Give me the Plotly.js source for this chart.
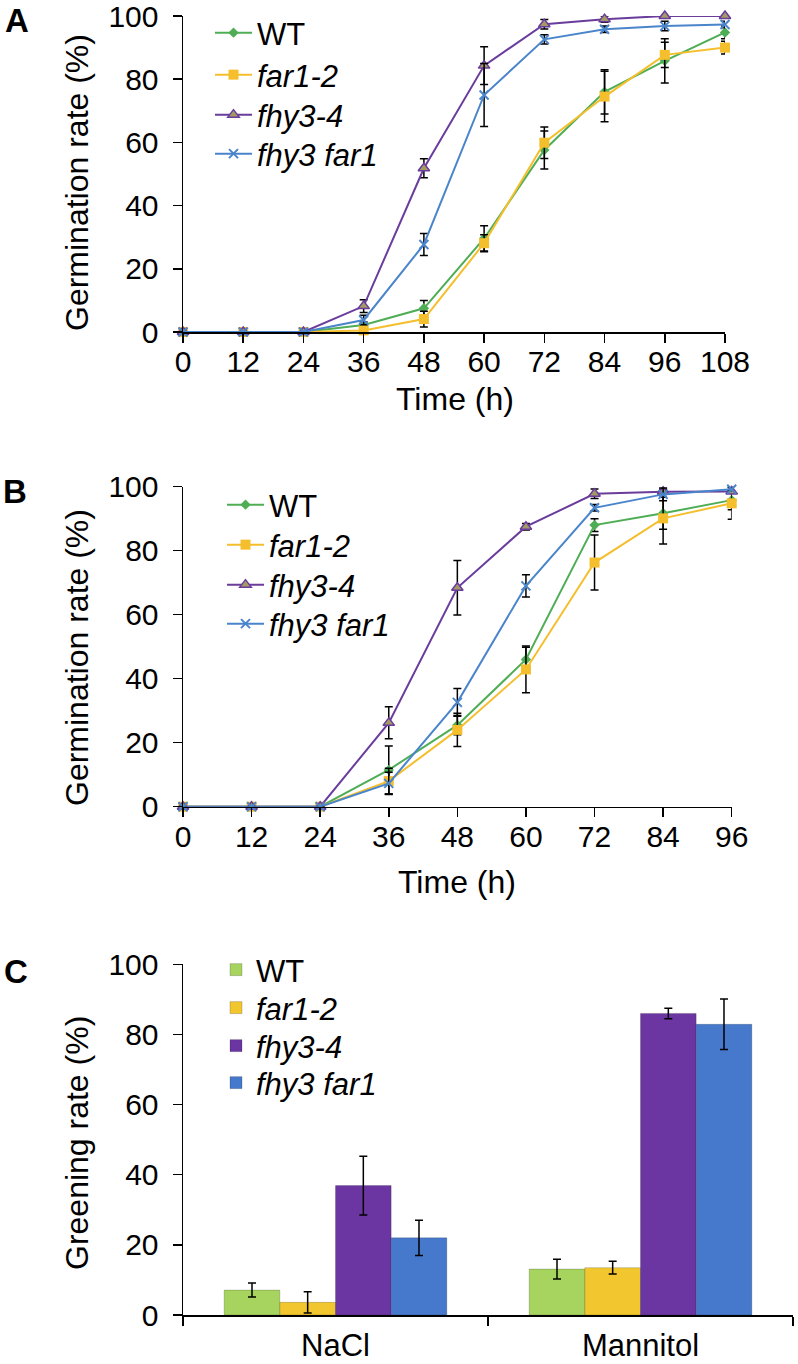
<!DOCTYPE html>
<html>
<head>
<meta charset="utf-8">
<script src="https://cdn.plot.ly/plotly-3.0.1.min.js"></script>
<style>
  html, body { margin: 0; padding: 0; background: #ffffff; }
  #chart { width: 798px; height: 1364px; }
</style>
</head>
<body>
<div id="chart"></div>
<script>
// ---------- data ----------
const seriesNames = ['WT', '<i>far1-2</i>', '<i>fhy3-4</i>', '<i>fhy3 far1</i>'];

// Panel A: germination time course (h)
const hoursA = [0, 12, 24, 36, 48, 60, 72, 84, 96, 108];
const aWT     = [0, 0, 0, 2.2, 7.5, 29.6, 57.6, 76.0, 85.8, 94.8];
const aWTerr  = [0, 0, 0, 1.0, 2.5, 4.0, 6.0, 7.0, 7.0, 2.0];
const aFar    = [0, 0, 0, 0.5, 4.1, 28.1, 59.9, 74.5, 87.7, 90.0];
const aFarErr = [0, 0, 0, 0.5, 2.5, 2.7, 5.0, 8.0, 4.0, 2.0];
const aFhy    = [0, 0, 0, 8.2, 51.8, 84.3, 97.4, 99.0, 100, 100];
const aFhyErr = [0, 0, 0, 2.0, 3.0, 6.0, 1.5, 1.0, 0.5, 0.5];
const aDbl    = [0, 0, 0, 3.8, 27.7, 75.0, 92.6, 95.8, 96.8, 97.3];
const aDblErr = [0, 0, 0, 1.5, 3.5, 10.0, 1.5, 1.0, 1.5, 1.0];

// Panel B: germination time course (h)
const hoursB = [0, 12, 24, 36, 48, 60, 72, 84, 96];
const bWT     = [0, 0, 0, 11.5, 25.5, 46.0, 88.0, 91.7, 95.8];
const bWTerr  = [0, 0, 0, 7.5, 3.0, 3.8, 2.0, 5.0, 3.0];
const bFar    = [0, 0, 0, 8.0, 24.0, 42.9, 76.3, 90.1, 94.8];
const bFarErr = [0, 0, 0, 4.0, 5.2, 7.3, 8.6, 8.0, 5.0];
const bFhy    = [0, 0, 0, 26.2, 68.4, 87.5, 97.8, 98.4, 98.5];
const bFhyErr = [0, 0, 0, 5.0, 8.5, 1.0, 1.5, 0.8, 0.5];
const bDbl    = [0, 0, 0, 7.3, 32.6, 69.0, 93.4, 97.6, 99.2];
const bDblErr = [0, 0, 0, 3.5, 4.3, 3.5, 1.0, 2.0, 0.5];

// Panel C: greening rate
const treatments = ['NaCl', 'Mannitol'];
const cWT     = [7.1, 13.1];
const cWTerr  = [2.0, 2.8];
const cFar    = [3.6, 13.5];
const cFarErr = [3.0, 1.8];
const cFhy    = [36.9, 86.0];
const cFhyErr = [8.4, 1.5];
const cDbl    = [22.0, 82.9];
const cDblErr = [5.0, 7.2];

const yTicks = [0, 20, 40, 60, 80, 100];

// ---------- styles ----------
const FONT = 'Liberation Sans, Arial, Helvetica, sans-serif';
const lineColors = ['#4FAE55', '#F4BE2C', '#6A3C9C', '#4A85CB'];
const barColors  = ['#A6D45F', '#F1C62E', '#6B36A2', '#4679CB'];
const markerDefs = [
  {symbol: 'diamond', size: 8, color: '#4FAE55', line: {width: 0}},
  {symbol: 'square', size: 10, color: '#F4BE2C', line: {width: 0}},
  {symbol: 'triangle-up', size: 10, color: '#A39B64', line: {width: 1.5, color: '#6A3C9C'}},
  {symbol: 'x-thin', size: 9, color: '#4A85CB', line: {width: 2, color: '#4A85CB'}}
];

function errBar(arr) {
  return {type: 'data', array: arr, visible: true, color: '#000000', thickness: 1.5, width: 4};
}

const W = 798, H = 1364;
const px = v => v / W;
const py = v => 1 - v / H;

// one legend per entry so each row sits where the reference puts it
const legendRows = {
  A: {x: 210, ys: [33, 75, 115, 154], iw: 37},
  B: {x: 222, ys: [505, 545, 585, 624], iw: 37},
  C: {x: 216, ys: [970, 1008, 1046, 1083], iw: 30}
};
const legendLayout = {};
let legendCount = 0;
function nextLegend(row, i) {
  legendCount += 1;
  const id = legendCount === 1 ? 'legend' : 'legend' + legendCount;
  legendLayout[id] = {
    x: px(row.x), y: py(row.ys[i]), xanchor: 'left', yanchor: 'middle',
    xref: 'paper', yref: 'paper',
    bgcolor: 'rgba(0,0,0,0)', borderwidth: 0,
    font: {family: FONT, size: 31, color: '#000000'},
    itemwidth: row.iw
  };
  return id;
}

const traces = [];
function addLines(xs, ys, errs, xa, ya, row) {
  for (let i = 0; i < 4; i++) {
    traces.push({
      type: 'scatter', mode: 'lines+markers',
      x: xs, y: ys[i], name: seriesNames[i],
      xaxis: xa, yaxis: ya, legend: nextLegend(row, i),
      line: {color: lineColors[i], width: 2},
      marker: markerDefs[i],
      error_y: errBar(errs[i]),
      cliponaxis: false
    });
  }
}
addLines(hoursA, [aWT, aFar, aFhy, aDbl], [aWTerr, aFarErr, aFhyErr, aDblErr], 'x', 'y', legendRows.A);
addLines(hoursB, [bWT, bFar, bFhy, bDbl], [bWTerr, bFarErr, bFhyErr, bDblErr], 'x2', 'y2', legendRows.B);

const cVals = [cWT, cFar, cFhy, cDbl];
const cErrs = [cWTerr, cFarErr, cFhyErr, cDblErr];
for (let i = 0; i < 4; i++) {
  traces.push({
    type: 'bar', x: treatments, y: cVals[i], name: seriesNames[i],
    xaxis: 'x3', yaxis: 'y3', legend: nextLegend(legendRows.C, i),
    marker: {color: barColors[i], line: {color: 'rgba(0,0,0,0.18)', width: 1}},
    error_y: errBar(cErrs[i])
  });
}

// ---------- layout ----------
const axisBase = {
  showline: true, linecolor: '#000000', linewidth: 1.5,
  ticks: 'outside', ticklen: 9, tickwidth: 1.5, tickcolor: '#000000',
  showgrid: false, zeroline: false, ticklabeloverflow: 'allow',
  tickfont: {family: FONT, size: 30, color: '#000000'}
};

function yAxis(anchor, top, bottom) {
  return Object.assign({}, axisBase, {
    anchor: anchor, domain: [py(bottom), py(top)], range: [0, 100],
    tickvals: yTicks, ticklabelstandoff: 8
  });
}

function ann(text, x, y, size, angle) {
  return {
    text: text, x: px(x), y: py(y), xref: 'paper', yref: 'paper',
    showarrow: false, xanchor: 'center', yanchor: 'middle',
    textangle: angle || 0,
    font: {family: FONT, size: size, color: '#000000'}
  };
}

const layout = Object.assign({
  width: W, height: H,
  margin: {l: 0, r: 0, t: 0, b: 0},
  paper_bgcolor: '#ffffff', plot_bgcolor: '#ffffff',
  font: {family: FONT, color: '#000000'},
  showlegend: true,
  barmode: 'group', bargap: 0.27, bargroupgap: 0,
  xaxis: Object.assign({}, axisBase, {
    anchor: 'y', domain: [px(183), px(725)], range: [0, 108],
    tickvals: hoursA, ticklabelstandoff: -7
  }),
  yaxis: yAxis('x', 16, 332),
  xaxis2: Object.assign({}, axisBase, {
    anchor: 'y2', domain: [px(183), px(731.7)], range: [0, 96],
    tickvals: hoursB, ticklabelstandoff: -6
  }),
  yaxis2: yAxis('x2', 486.7, 806.7),
  xaxis3: Object.assign({}, axisBase, {
    anchor: 'y3', domain: [px(183), px(793)], type: 'category',
    range: [-0.5, 1.5], tickson: 'boundaries',
    tickfont: {family: FONT, size: 31, color: '#000000'},
    ticklabelstandoff: 2
  }),
  yaxis3: yAxis('x3', 964.3, 1315),
  annotations: [
    ann('<b>A</b>', 17, 21, 33),
    ann('<b>B</b>', 15, 491, 33),
    ann('<b>C</b>', 16, 971, 33),
    ann('Germination rate (%)', 77, 183, 32, -90),
    ann('Germination rate (%)', 77, 658, 32, -90),
    ann('Greening rate (%)', 77, 1143, 32, -90),
    ann('Time (h)', 455, 399, 32),
    ann('Time (h)', 457, 882, 32)
  ]
}, legendLayout);

Plotly.newPlot('chart', traces, layout, {staticPlot: true, displayModeBar: false});
</script>
</body>
</html>
